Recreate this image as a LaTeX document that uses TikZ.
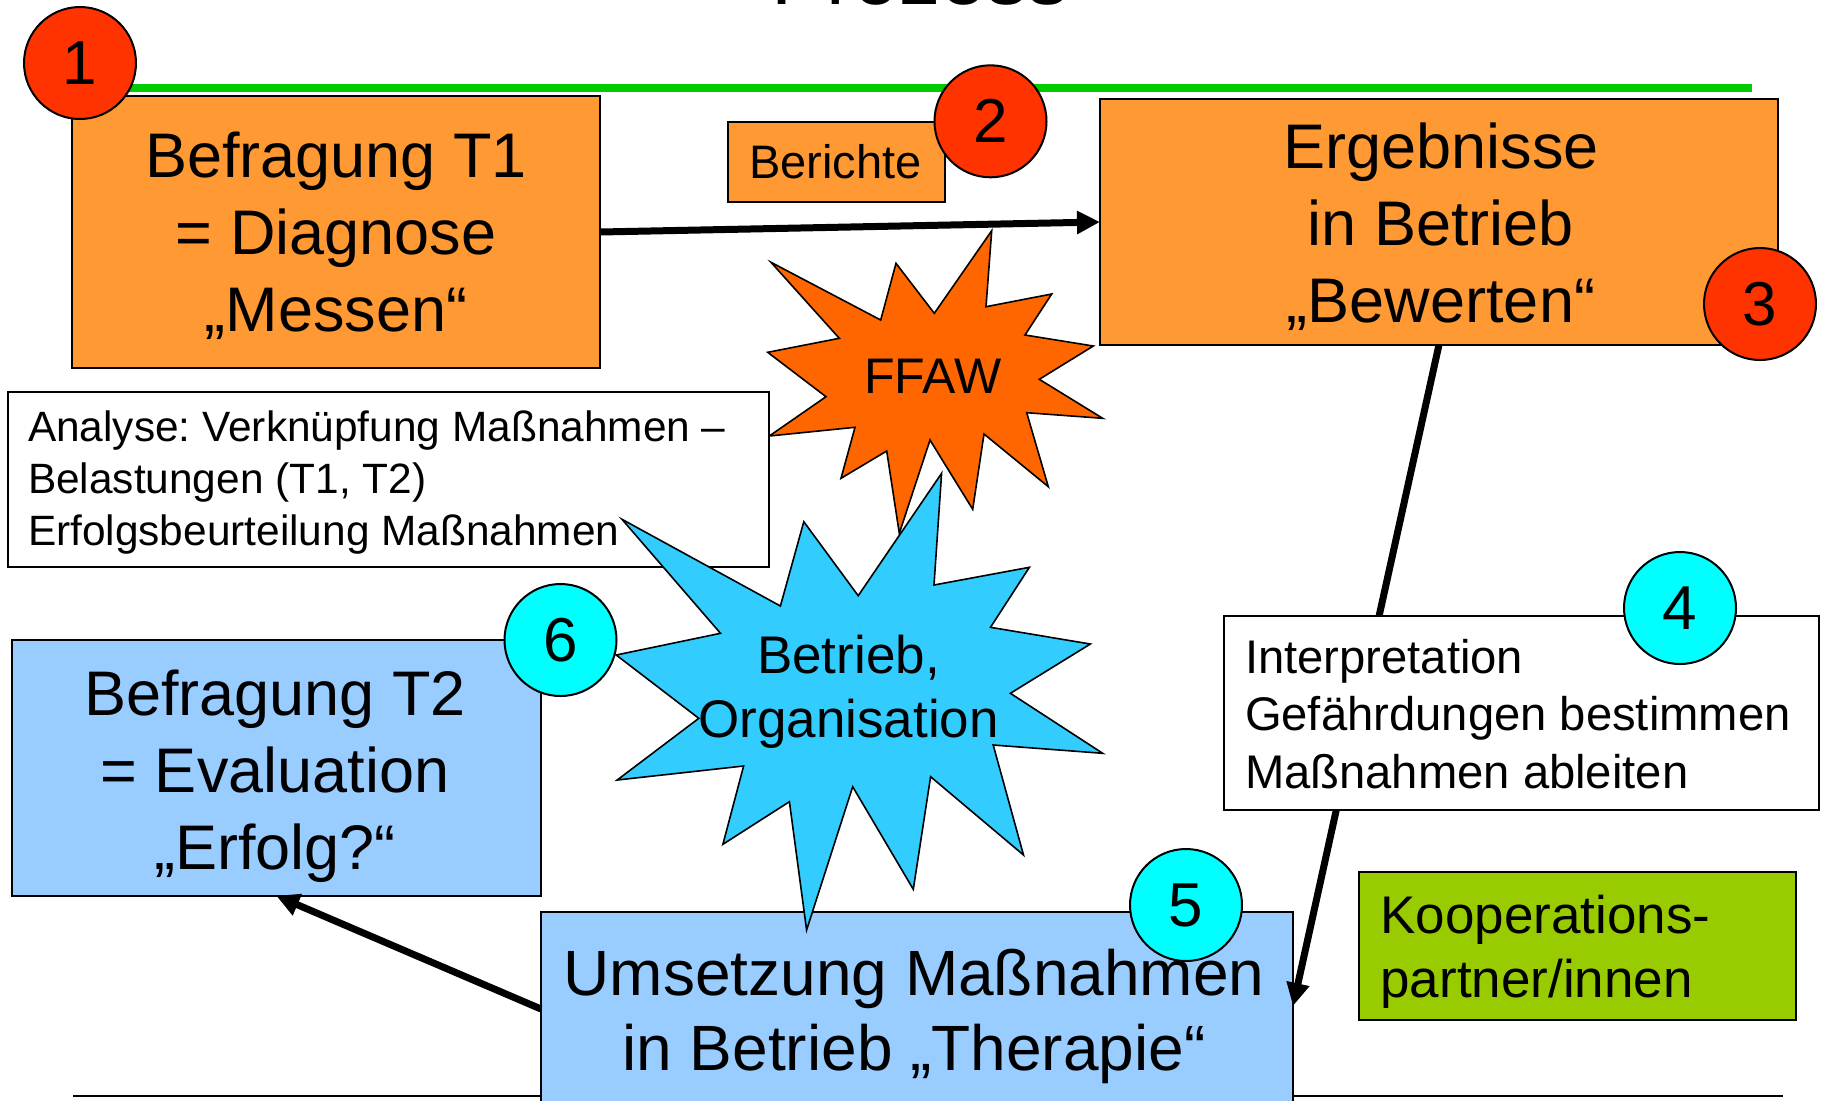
\documentclass[tikz,border=0pt]{standalone}
\usepackage{fontspec}
\setmainfont{Liberation Sans}
\usetikzlibrary{arrows.meta,calc}
\frenchspacing
\definecolor{boxorange}{HTML}{FF9933}
\definecolor{numred}{HTML}{FF3300}
\definecolor{staror}{HTML}{FF6600}
\definecolor{starblue}{HTML}{33CCFF}
\definecolor{boxblue}{HTML}{99CCFF}
\definecolor{numcyan}{HTML}{00FFFF}
\definecolor{linegreen}{HTML}{00CC00}
\definecolor{koopgreen}{HTML}{99CC00}
\begin{document}
\begin{tikzpicture}[x=0.5pt,y=-0.5pt,
  box/.style={draw=black, line width=1pt, inner sep=0pt, outer sep=0pt},
  txt/.style={inner sep=0pt, outer sep=0pt, align=center, anchor=base},
  ltxt/.style={inner sep=0pt, outer sep=0pt, align=left, anchor=base west},
  num/.style={circle, draw=black, line width=1pt, minimum size=56pt, inner sep=0pt, font=\fontsize{31}{31}\selectfont},
  bigarrow/.style={line width=3.5pt, -{Triangle[length=11.5pt,width=11pt]}},
  bigfont/.style={font=\fontsize{31.5}{38.5}\selectfont},
  starline/.style={draw=black, line width=0.8pt, line join=miter},
]
\useasboundingbox (0,0) rectangle (1822,1100);
\fill[white] (0,0) rectangle (1822,1100);

% title (cut off at top)
\node[txt, font=\fontsize{41}{41}\selectfont] (title) at (920,4) {Prozess};

% green rule and bottom rule
\coordinate (gl1) at (110,88);
\coordinate (gl2) at (1752,88);
\draw[linegreen, line width=4pt] (gl1) -- (gl2);
\coordinate (bl1) at (73,1095.5);
\coordinate (bl2) at (1783,1095.5);
\draw[black, line width=1pt] (bl1) -- (bl2);

% orange boxes (text nodes anchored at the baseline of their last line)
\node[box, fill=boxorange, minimum width=264pt, minimum height=136pt] (b1) at (336,232) {};
\node[txt, bigfont] (b1t) at (336,331) {Befragung T1~\\= Diagnose\\„Messen“};

\node[box, fill=boxorange, minimum width=108.65pt, minimum height=40.3pt] (ber) at (836.3,162) {};
\node[txt, font=\fontsize{23.5}{28}\selectfont] (bert) at (835.4,178.3) {Berichte};

\node[box, fill=boxorange, minimum width=339pt, minimum height=122.65pt] (erg) at (1439,222) {};
\node[txt, bigfont] (ergt) at (1441,322.5) {Ergebnisse\\in Betrieb\\„Bewerten“};

% FFAW star
\draw[starline, fill=staror] (991.7,230.7) -- (986,306.7) -- (1051.7,294) -- (1025,335) -- (1093.3,346) -- (1039.3,379.3) -- (1102.7,418.3) -- (1026.7,412.7) -- (1048.3,486.7) -- (984,434) -- (972.7,509.3) -- (930,440) -- (899.3,533.3) -- (886.7,451) -- (841,478.3) -- (855,427.3) -- (769.3,436) -- (826,396.7) -- (767.7,352.3) -- (839.3,338.3) -- (771,262.3) -- (880.7,320) -- (896,263.3) -- (934.3,313.3) -- cycle;
\node[txt, font=\fontsize{25}{25}\selectfont] (ffaw) at (932.8,393) {FFAW};

% Analyse box
\node[box, fill=white, minimum width=380.75pt, minimum height=87.5pt] (ana) at (388.25,479.5) {};
\node[ltxt, font=\fontsize{21.2}{26}\selectfont] (anat) at (28,545.7) {Analyse: Verknüpfung Maßnahmen –\\Belastungen (T1, T2)\\Erfolgsbeurteilung Maßnahmen};

% blue boxes
\node[box, fill=boxblue, minimum width=264.25pt, minimum height=127.85pt] (t2) at (276.25,767.85) {};
\node[txt, bigfont] (t2t) at (275,869) {Befragung T2~\\= Evaluation\\„Erfolg?“};

\node[box, fill=boxblue, minimum width=376pt, minimum height=134pt] (ums) at (917,1046) {};
\node[txt, font=\fontsize{32}{37.5}\selectfont] (umst) at (914,1070) {Umsetzung Maßnahmen\\in Betrieb „Therapie“};

% arrow 3 -> 5 (under the Interpretation box)
\draw[bigarrow] (erg.south) -- ($(ums.north east)+(0,94)$);

% Interpretation box
\node[box, fill=white, minimum width=297.5pt, minimum height=97.35pt] (int) at (1521.3,713) {};
\node[ltxt, font=\fontsize{23.6}{28.75}\selectfont] (intt) at (1245,788) {Interpretation\\Gefährdungen bestimmen\\Maßnahmen ableiten};

% blue star
\draw[starline, fill=starblue] (941.6,473.3) -- (934,585) -- (1029.4,567.3) -- (990.5,627.3) -- (1090.3,644) -- (1010.4,693.3) -- (1102.7,753.3) -- (993.2,745) -- (1023.5,855) -- (930.6,776.7) -- (913.3,889.3) -- (852.7,786.7) -- (806.6,930) -- (789.4,801.7) -- (722.9,844.3) -- (743.6,766) -- (617.2,780) -- (698.8,718.3) -- (616.2,655) -- (720.5,633.3) -- (622,519.3) -- (780.4,606) -- (803.8,521.7) -- (858.2,595.7) -- cycle;
\node[txt, font=\fontsize{26.5}{32}\selectfont] (bo) at (848.5,737) {Betrieb,\\Organisation};

% Kooperationspartner
\node[box, fill=koopgreen, minimum width=218.75pt, minimum height=74pt] (koop) at (1577.5,946) {};
\node[ltxt, font=\fontsize{26.5}{32}\selectfont] (koopt) at (1380.5,997) {Kooperations-\\partner/innen};

% arrows
\draw[bigarrow] (b1.east) -- (erg.west);
\draw[bigarrow] ($(ums.north west)+(0,97)$) -- (t2.south);

% numbered circles
\node[num, fill=numred] (n1) at (80,63) {1};
\node[num, fill=numred] (n2) at (990.5,121.3) {2};
\node[num, fill=numred] (n3) at (1760,304) {3};
\node[num, fill=numcyan] (n4) at (1680,608) {4};
\node[num, fill=numcyan] (n5) at (1186,905) {5};
\node[num, fill=numcyan] (n6) at (560.5,640) {6};
\end{tikzpicture}
\end{document}
